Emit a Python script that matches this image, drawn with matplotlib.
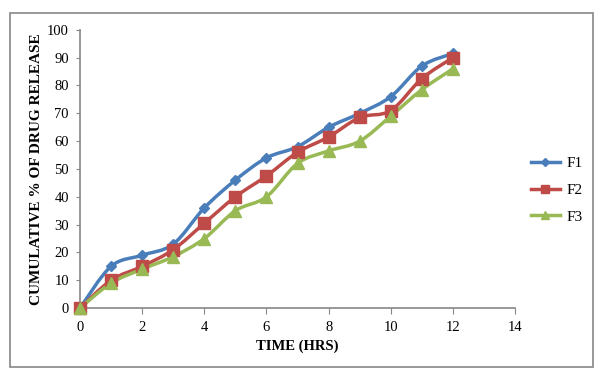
import numpy as np
import matplotlib
matplotlib.use("Agg")
import matplotlib.pyplot as plt
from matplotlib.path import Path
from matplotlib.patches import PathPatch, Rectangle
from matplotlib.lines import Line2D

# data
hours = [0, 1, 2, 3, 4, 5, 6, 7, 8, 9, 10, 11, 12]
f1 = [0, 15, 19, 23, 36, 46, 54, 58, 65, 70, 76, 87, 91.5]
f2 = [0, 10, 15, 21, 30.5, 40, 47.5, 56, 61.5, 68.5, 71, 82.5, 90]
f3 = [0, 9, 14, 18.5, 25, 35, 40, 52, 56.5, 60, 69, 78.5, 86]
names = ["F1", "F2", "F3"]
colors = ["#4A7EBB", "#BE4B48", "#98B954"]
markers = ["D", "s", "^"]
msizes = [5, 8, 8]

plt.rcParams['font.family'] = ['Liberation Serif', 'DejaVu Serif']


def smooth_path(x, y, t=1.0 / 6):
    # excel-like smoothed line: cubic bezier through each point
    x = np.asarray(x, float)
    y = np.asarray(y, float)
    n = len(x)
    verts = [(x[0], y[0])]
    codes = [Path.MOVETO]
    for i in range(n - 1):
        x0, y0 = (x[i - 1], y[i - 1]) if i > 0 else (x[i], y[i])
        x3, y3 = (x[i + 2], y[i + 2]) if i + 2 < n else (x[i + 1], y[i + 1])
        c1 = (x[i] + (x[i + 1] - x0) * t, y[i] + (y[i + 1] - y0) * t)
        c2 = (x[i + 1] - (x3 - x[i]) * t, y[i + 1] - (y3 - y[i]) * t)
        verts += [c1, c2, (x[i + 1], y[i + 1])]
        codes += [Path.CURVE4] * 3
    return Path(verts, codes)


fig = plt.figure(figsize=(6.06, 3.73), dpi=100)
ax = fig.add_axes([0.132, 0.174, 0.718, 0.746])

handles = []
for ys, name, c, m, ms in zip([f1, f2, f3], names, colors, markers, msizes):
    ax.add_patch(PathPatch(smooth_path(hours, ys), fill=False, edgecolor=c,
                           lw=2.5, capstyle='round', joinstyle='round', zorder=2))
    ax.plot(hours, ys, linestyle='none', marker=m, ms=ms, color=c, zorder=3)
    handles.append(Line2D([], [], color=c, lw=2.5, marker=m, ms=ms * 0.8))

ax.set_xlim(0, 14)
ax.set_ylim(0, 100)
ax.set_xticks(range(0, 15, 2))
ax.set_yticks(range(0, 101, 10))
for s in ["top", "right"]:
    ax.spines[s].set_visible(False)
for s in ["left", "bottom"]:
    ax.spines[s].set_color("#868686")
    ax.spines[s].set_linewidth(1.2)
ax.tick_params(axis='both', colors="#868686", labelcolor="black", labelsize=10.5,
               direction='out', length=4)
ax.tick_params(axis='y', length=3, pad=5)
ax.tick_params(axis='x', pad=5)
for c in ax.get_children():
    c.set_clip_on(False)

ax.set_xlabel("TIME (HRS)", fontweight='bold', fontsize=10.5, labelpad=4)
ax.set_ylabel("CUMULATIVE % OF DRUG RELEASE", fontweight='bold', fontsize=11, labelpad=3)

fig.legend(handles, names, loc='center left', bbox_to_anchor=(0.853, 0.49),
           frameon=False, fontsize=11, handlelength=1.9, labelspacing=0.85,
           handletextpad=0.45)

fig.patches.append(Rectangle((0.0165, 0.016), 0.962, 0.949, transform=fig.transFigure,
                             fill=False, edgecolor="#868686", lw=1.2))

fig.savefig("out.png", dpi=100)
